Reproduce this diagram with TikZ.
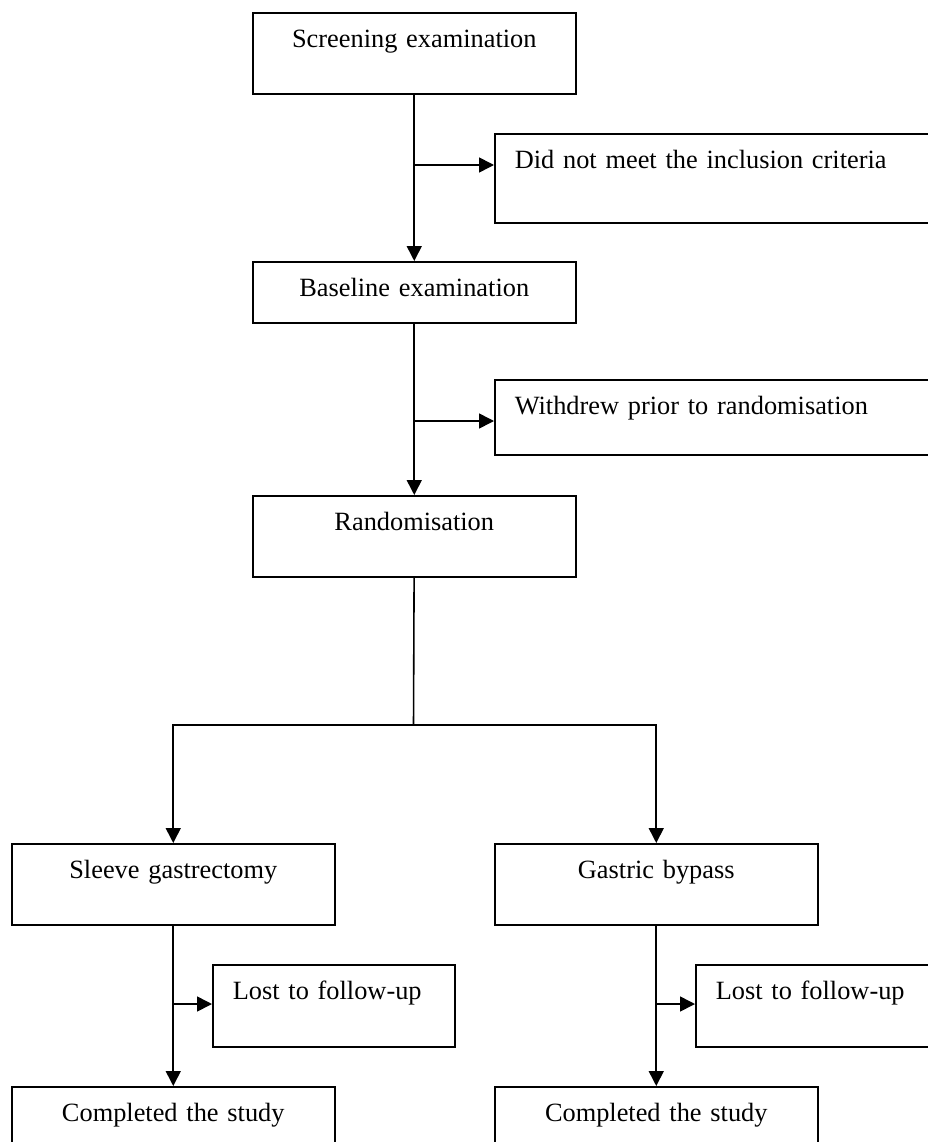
\documentclass[tikz,border=0pt]{standalone}
\usepackage{fontspec}
\setmainfont{Liberation Serif}
\usetikzlibrary{arrows.meta}

\tikzset{
	box/.style={draw, line width=0.9pt, anchor=north west, inner xsep=0.4cm, inner ysep=0pt, text height=0.7cm, align=center, font=\fontsize{15pt}{18pt}\selectfont},
	midbox/.style={box, text width=5.66cm, text depth=0.92cm},
	sidebox/.style={box, align=left},
	link/.style={line width=0.9pt},
}

\begin{document}
\begin{tikzpicture}[x=0.02cm, y=-0.02cm, >={Triangle[length=0.3cm,width=0.3cm]}]
	\useasboundingbox (0,0) rectangle (928,1142);
	\clip (0,0) rectangle (928,1142);

	\node[midbox] (screen) at (252,12) {Screening examination};
	\node[sidebox, text width=8.6cm, text depth=1.08cm] (nomeet) at (494,133) {Did not meet the inclusion criteria};
	\node[midbox, text depth=0.52cm] (base) at (252,261) {Baseline examination};
	\node[sidebox, text width=8.6cm, text depth=0.8cm] (withdrew) at (494,379) {Withdrew prior to randomisation};
	\node[midbox] (random) at (252,495) {Randomisation};
	\node[midbox] (sleeve) at (11,843) {Sleeve gastrectomy};
	\node[midbox] (bypass) at (494,843) {Gastric bypass};
	\node[sidebox, text width=4.04cm, text depth=0.94cm] (lostA) at (212,964) {Lost to follow-up};
	\node[sidebox, text width=4.04cm, text depth=0.94cm] (lostB) at (695,964) {Lost to follow-up};
	\node[midbox] (doneA) at (11,1086) {Completed the study};
	\node[midbox] (doneB) at (494,1086) {Completed the study};

	\coordinate (j1) at (413.5,165);
	\coordinate (j2) at (413.5,421);
	\coordinate (split) at (413.5,725);
	\coordinate (jA) at (172,1004);
	\coordinate (jB) at (655.5,1004);

	% screening
	\draw[link,->](screen) -- (base);
	\draw[link,->](j1) -- (j1 -| nomeet.west);
	% baseline
	\draw[link,->](base) -- (random);
	\draw[link,->](j2) -- (j2 -| withdrew.west);
	% randomisation
	\draw[link](random) -- (split);
	\draw[link,->](split) -| (sleeve.north);
	\draw[link,->](split) -| (bypass.north);
	% sleeve
	\draw[link,->](sleeve) -- (doneA);
	\draw[link,->](jA) -- (jA -| lostA.west);
	% bypass
	\draw[link,->](bypass) -- (doneB);
	\draw[link,->](jB) -- (jB -| lostB.west);
\end{tikzpicture}
\end{document}
